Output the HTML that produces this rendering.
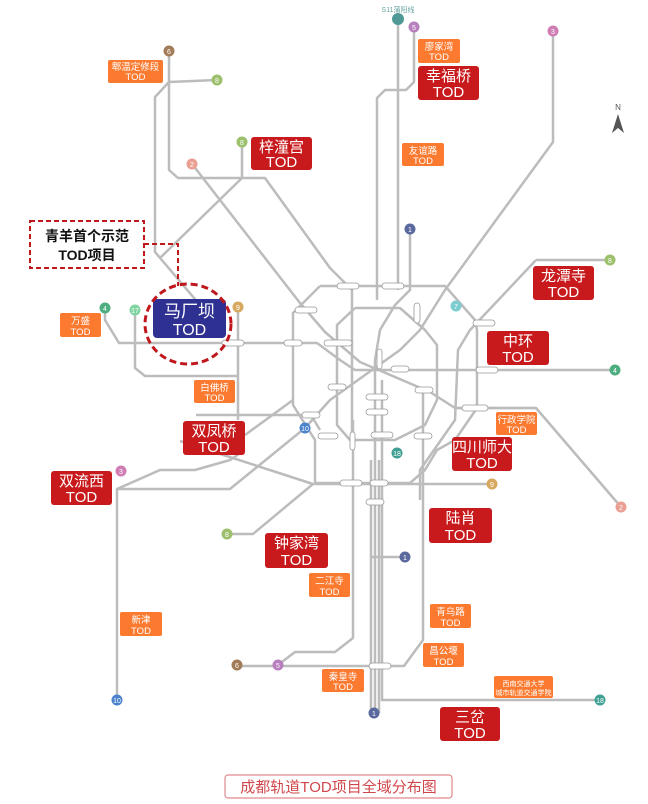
<!DOCTYPE html>
<html><head><meta charset="utf-8"><style>
html,body{margin:0;padding:0;background:#fff;}
svg{display:block;}
text{font-family:"Liberation Sans","Noto Sans CJK SC",sans-serif;}
</style></head><body>
<svg width="648" height="804" viewBox="0 0 648 804" xmlns="http://www.w3.org/2000/svg">
<rect width="648" height="804" fill="#fff"/>
<g fill="none" stroke="#bcbcbc" stroke-width="2.5" stroke-linejoin="round">
<polyline points="398,19 398,290"/>
<polyline points="414,27 414,82 406,90 385,90 377,98 377,300"/>
<polyline points="553,31 553,142 445,290 420,330 400,350 330,400 305,428 230,489 117,489 117,700"/>
<polyline points="169,51 169,170 178,178 265,178 330,268 352,290 352,440"/>
<polyline points="169,82 217,80"/>
<polyline points="169,82 155,97 155,252 200,305"/>
<polyline points="242,142 242,178 160,258"/>
<polyline points="192,164 300,303 325,332 360,362 430,392 455,408 536,408 621,507"/>
<polyline points="410,229 410,290 395,305 380,330 375,360 375,713"/>
<polyline points="371,557 405,557"/>
<polyline points="382,380 382,700 600,700"/>
<polyline points="105,308 105,320 119,343 317,343 340,360 355,370 615,370"/>
<polyline points="135,310 135,368 145,376 238,376"/>
<polyline points="238,307 238,420"/>
<polyline points="196,415 311,415 320,430"/>
<polyline points="320,286 445,286 475,320 477,330 477,408 455,440 437,450 425,470 410,483 315,483 315,440 293,405 293,313 320,286"/>
<polyline points="355,308 400,308 425,330 437,345 437,400 425,425 395,440 350,440 337,425 337,325 355,308"/>
<polyline points="536,260 609,260"/>
<polyline points="536,260 470,330 458,350 455,420 420,470 420,500"/>
<polyline points="455,408 536,408"/>
<polyline points="180,441 313,484 492,484"/>
<polyline points="313,484 253,534 227,534"/>
<polyline points="245,450 230,460 195,470 160,470 117,489"/>
<polyline points="353,420 353,638 335,652 295,652 278,665"/>
<polyline points="237,666 404,666 423,640 423,390"/>
<polyline points="371,460 371,713"/>
<polyline points="379,460 379,713"/>
<polyline points="293,400 245,435"/>
</g>
<g fill="#fff" stroke="#999" stroke-width="0.8">
<rect x="222" y="340" width="22" height="6" rx="3"/><rect x="284" y="340" width="18" height="6" rx="3"/><rect x="324" y="340" width="28" height="6" rx="3"/>
<rect x="337" y="283" width="22" height="6" rx="3"/><rect x="382" y="283" width="22" height="6" rx="3"/><rect x="295" y="307" width="22" height="6" rx="3"/>
<rect x="414" y="303" width="6" height="20" rx="3"/><rect x="377" y="349" width="5" height="20" rx="2.5"/><rect x="391" y="366" width="18" height="6" rx="3"/>
<rect x="328" y="384" width="18" height="6" rx="3"/><rect x="366" y="394" width="22" height="6" rx="3"/><rect x="415" y="387" width="18" height="6" rx="3"/>
<rect x="366" y="409" width="22" height="6" rx="3"/><rect x="302" y="412" width="18" height="6" rx="3"/><rect x="318" y="433" width="20" height="6" rx="3"/>
<rect x="350" y="432" width="5" height="18" rx="2.5"/><rect x="371" y="432" width="22" height="6" rx="3"/><rect x="414" y="433" width="18" height="6" rx="3"/>
<rect x="340" y="480" width="22" height="6" rx="3"/><rect x="370" y="480" width="18" height="6" rx="3"/><rect x="366" y="499" width="18" height="6" rx="3"/>
<rect x="473" y="320" width="22" height="6" rx="3"/><rect x="476" y="367" width="22" height="6" rx="3"/><rect x="462" y="405" width="26" height="6" rx="3"/>
<rect x="369" y="663" width="22" height="6" rx="3"/>
</g>
<g font-size="7" fill="#fff" text-anchor="middle">
<circle cx="398" cy="19" r="6" fill="#4f9a97"/>
<circle cx="414" cy="27" r="5.5" fill="#b77fbd"/><text x="414" y="30">5</text>
<circle cx="553" cy="31" r="5.5" fill="#d07db5"/><text x="553" y="34">3</text>
<circle cx="169" cy="51" r="5.5" fill="#a27b58"/><text x="169" y="54">6</text>
<circle cx="217" cy="80" r="5.5" fill="#9cc06c"/><text x="217" y="83">8</text>
<circle cx="242" cy="142" r="5.5" fill="#9cc06c"/><text x="242" y="145">8</text>
<circle cx="192" cy="164" r="5.5" fill="#e9a092"/><text x="192" y="167">2</text>
<circle cx="410" cy="229" r="5.5" fill="#5b6a9e"/><text x="410" y="232">1</text>
<circle cx="610" cy="260" r="5.5" fill="#9cc06c"/><text x="610" y="263">8</text>
<circle cx="105" cy="308" r="5.5" fill="#4fae7f"/><text x="105" y="311">4</text>
<circle cx="135" cy="310" r="5.5" fill="#7fd4a0"/><text x="135" y="313">17</text>
<circle cx="238" cy="307" r="5.5" fill="#d6a860"/><text x="238" y="310">9</text>
<circle cx="456" cy="306" r="5.5" fill="#7ccdd0"/><text x="456" y="309">7</text>
<circle cx="615" cy="370" r="5.5" fill="#4fae7f"/><text x="615" y="373">4</text>
<circle cx="305" cy="428" r="5.5" fill="#4a82cc"/><text x="305" y="431">10</text>
<circle cx="397" cy="453" r="5.5" fill="#3f9f93"/><text x="397" y="456">18</text>
<circle cx="121" cy="471" r="5.5" fill="#d07db5"/><text x="121" y="474">3</text>
<circle cx="492" cy="484" r="5.5" fill="#d6a860"/><text x="492" y="487">9</text>
<circle cx="621" cy="507" r="5.5" fill="#e9a092"/><text x="621" y="510">2</text>
<circle cx="227" cy="534" r="5.5" fill="#9cc06c"/><text x="227" y="537">8</text>
<circle cx="405" cy="557" r="5.5" fill="#5b6a9e"/><text x="405" y="560">1</text>
<circle cx="237" cy="665" r="5.5" fill="#a27b58"/><text x="237" y="668">6</text>
<circle cx="278" cy="665" r="5.5" fill="#b77fbd"/><text x="278" y="668">5</text>
<circle cx="117" cy="700" r="5.5" fill="#4a82cc"/><text x="117" y="703">10</text>
<circle cx="600" cy="700" r="5.5" fill="#3f9f93"/><text x="600" y="703">18</text>
<circle cx="374" cy="713" r="5.5" fill="#5b6a9e"/><text x="374" y="716">1</text>
</g>
<text x="398" y="12" font-size="7" fill="#6aa5a3" text-anchor="middle">S11蒲阳线</text>
<text x="618" y="110" font-size="8" fill="#555" text-anchor="middle">N</text>
<polygon points="618,114 612,133 618,128 624,133" fill="#555"/>
<g fill="#fb7a2f">
<rect x="108" y="60" width="55" height="23" rx="2"/>
<rect x="418" y="39" width="42" height="24" rx="2"/>
<rect x="402" y="143" width="42" height="23" rx="2"/>
<rect x="60" y="313" width="41" height="24" rx="2"/>
<rect x="194" y="380" width="41" height="23" rx="2"/>
<rect x="496" y="412" width="41" height="23" rx="2"/>
<rect x="309" y="573" width="41" height="24" rx="2"/>
<rect x="120" y="612" width="42" height="24" rx="2"/>
<rect x="430" y="604" width="41" height="24" rx="2"/>
<rect x="423" y="643" width="41" height="24" rx="2"/>
<rect x="322" y="669" width="42" height="23" rx="2"/>
<rect x="494" y="676" width="59" height="22" rx="2"/>
</g>
<g fill="#fff" font-size="9.5" text-anchor="middle">
<text x="135.5" y="70">郫温定修段</text><text x="135.5" y="80">TOD</text>
<text x="439" y="50">廖家湾</text><text x="439" y="60">TOD</text>
<text x="423" y="154">友谊路</text><text x="423" y="164">TOD</text>
<text x="80.5" y="324">万盛</text><text x="80.5" y="335">TOD</text>
<text x="214.5" y="391">白佛桥</text><text x="214.5" y="401">TOD</text>
<text x="516.5" y="423">行政学院</text><text x="516.5" y="433">TOD</text>
<text x="329.5" y="584">二江寺</text><text x="329.5" y="595">TOD</text>
<text x="141" y="623">新津</text><text x="141" y="634">TOD</text>
<text x="450.5" y="615">青乌路</text><text x="450.5" y="626">TOD</text>
<text x="443.5" y="654">昌公堰</text><text x="443.5" y="665">TOD</text>
<text x="343" y="680">秦皇寺</text><text x="343" y="690">TOD</text>
<text x="523.5" y="686" font-size="7">西南交通大学</text><text x="523.5" y="695" font-size="7">城市轨道交通学院</text>
</g>
<g fill="#c81a1c">
<rect x="418" y="66" width="61" height="34" rx="3"/>
<rect x="251" y="137" width="61" height="33" rx="3"/>
<rect x="533" y="266" width="61" height="34" rx="3"/>
<rect x="487" y="331" width="62" height="34" rx="3"/>
<rect x="183" y="421" width="62" height="34" rx="3"/>
<rect x="452" y="437" width="60" height="34" rx="3"/>
<rect x="51" y="471" width="61" height="34" rx="3"/>
<rect x="429" y="508" width="63" height="35" rx="3"/>
<rect x="265" y="533" width="63" height="35" rx="3"/>
<rect x="440" y="707" width="60" height="34" rx="3"/>
</g>
<g fill="#fff" font-size="15" text-anchor="middle">
<text x="448.5" y="81">幸福桥</text><text x="448.5" y="97">TOD</text>
<text x="281.5" y="152">梓潼宫</text><text x="281.5" y="167">TOD</text>
<text x="563.5" y="281">龙潭寺</text><text x="563.5" y="297">TOD</text>
<text x="518" y="346">中环</text><text x="518" y="362">TOD</text>
<text x="214" y="436">双凤桥</text><text x="214" y="452">TOD</text>
<text x="482" y="452">四川师大</text><text x="482" y="468">TOD</text>
<text x="81.5" y="486">双流西</text><text x="81.5" y="502">TOD</text>
<text x="460.5" y="523">陆肖</text><text x="460.5" y="540">TOD</text>
<text x="296.5" y="548">钟家湾</text><text x="296.5" y="565">TOD</text>
<text x="470" y="722">三岔</text><text x="470" y="738">TOD</text>
</g>
<rect x="153" y="299" width="73" height="39" rx="4" fill="#2e3192"/>
<text x="189.5" y="317" font-size="17" fill="#fff" text-anchor="middle">马厂坝</text>
<text x="189.5" y="335" font-size="16" fill="#fff" text-anchor="middle">TOD</text>
<ellipse cx="188" cy="324" rx="43" ry="40" fill="none" stroke="#c0171c" stroke-width="3" stroke-dasharray="7,4"/>
<rect x="30" y="221" width="114" height="47" fill="#fff" stroke="#c0171c" stroke-width="2" stroke-dasharray="5,3"/>
<polyline points="144,244 178,244 178,286" fill="none" stroke="#c0171c" stroke-width="2" stroke-dasharray="5,3"/>
<text x="87" y="241" font-size="14" font-weight="bold" fill="#111" text-anchor="middle">青羊首个示范</text>
<text x="87" y="260" font-size="14" font-weight="bold" fill="#111" text-anchor="middle">TOD项目</text>
<rect x="225" y="775" width="227" height="23" rx="3" fill="#fff" stroke="#e08a8e" stroke-width="1.2"/>
<text x="338.5" y="792" font-size="15" fill="#d0474b" text-anchor="middle">成都轨道TOD项目全域分布图</text>
</svg>
</body></html>
